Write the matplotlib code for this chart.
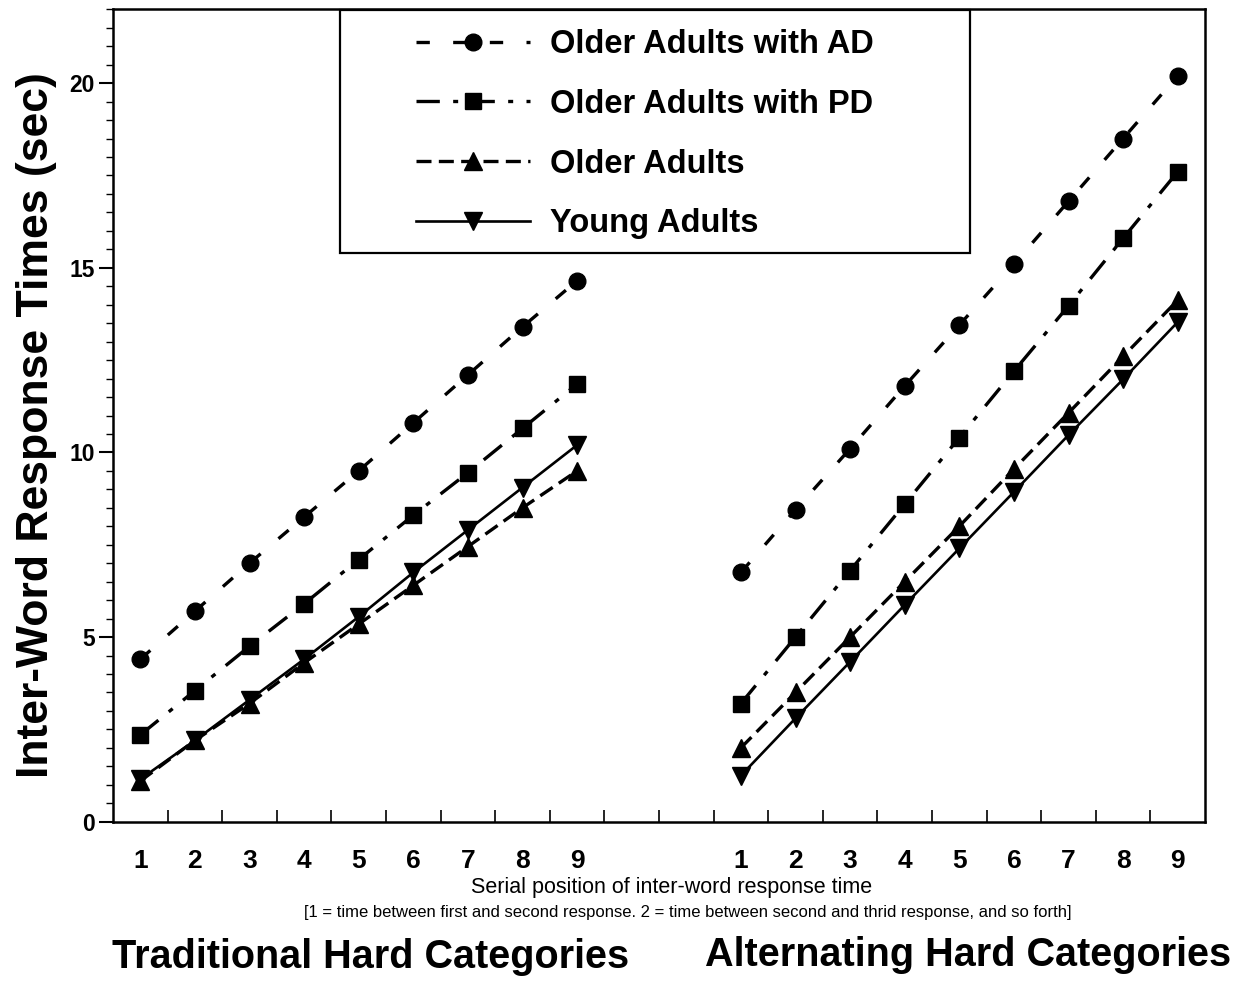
import matplotlib
matplotlib.use("Agg")
import matplotlib.pyplot as plt
from matplotlib.lines import Line2D
from matplotlib.patches import Rectangle
import numpy as np

plt.rcParams['font.family'] = ['Liberation Sans', 'DejaVu Sans']

# ---------------- data ----------------
positions = [1, 2, 3, 4, 5, 6, 7, 8, 9]
tick_labels = ["1", "2", "3", "4", "5", "6", "7", "8", "9"]
group_offset = 11  # second panel placed after a gap on the same axis

series_names = ["Older Adults with AD", "Older Adults with PD", "Older Adults", "Young Adults"]

# Traditional Hard Categories
trad_ad = [4.4, 5.7, 7.0, 8.25, 9.5, 10.8, 12.1, 13.4, 14.65]
trad_pd = [2.35, 3.55, 4.75, 5.9, 7.1, 8.3, 9.45, 10.65, 11.85]
trad_old = [1.1, 2.2, 3.2, 4.3, 5.35, 6.4, 7.45, 8.5, 9.5]
trad_young = [1.15, 2.2, 3.3, 4.4, 5.55, 6.75, 7.9, 9.05, 10.2]

# Alternating Hard Categories
alt_ad = [6.75, 8.45, 10.1, 11.8, 13.45, 15.1, 16.8, 18.5, 20.2]
alt_pd = [3.2, 5.0, 6.8, 8.6, 10.4, 12.2, 13.97, 15.8, 17.6]
alt_old = [2.0, 3.5, 5.0, 6.5, 8.0, 9.55, 11.07, 12.6, 14.12]
alt_young = [1.25, 2.8, 4.33, 5.87, 7.4, 8.93, 10.47, 11.98, 13.53]

# ---------------- styles ----------------
styles = [
    dict(marker='o', ms=12, lw=2.4, dashes=(4, 7)),
    dict(marker='s', ms=11.5, lw=2.4, dashes=(7, 4, 1.5, 4)),
    dict(marker='^', ms=13, lw=2.4, dashes=(4.5, 2.2)),
    dict(marker='v', ms=13, lw=1.9, dashes=()),
]

W, H = 1249, 981
fig = plt.figure(figsize=(W / 100, H / 100), dpi=100)
L, R, B, T = 113, 1205, 821.7, 9.3
ax = fig.add_axes([L / W, 1 - B / H, (R - L) / W, (B - T) / H])

x1 = np.array(positions, dtype=float)
x2 = x1 + group_offset
trad = [trad_ad, trad_pd, trad_old, trad_young]
alt = [alt_ad, alt_pd, alt_old, alt_young]

for st, yt, ya in zip(styles, trad, alt):
    for xs, ys in ((x1, yt), (x2, ya)):
        ln, = ax.plot(xs, ys, color='black', marker=st['marker'], ms=st['ms'],
                      lw=st['lw'], markeredgecolor='black', markerfacecolor='black',
                      solid_capstyle='butt', dash_capstyle='butt')
        if st['dashes']:
            ln.set_dashes(st['dashes'])

ax.set_xlim(0.5, 20.5)
ax.set_ylim(0, 22)

# x ticks: labels at data positions, inward tick marks between positions
ax.set_xticks(list(x1) + list(x2))
ax.set_xticklabels(tick_labels + tick_labels, fontsize=19, fontweight='bold')
ax.set_xticks(np.arange(1.5, 20.0, 1.0), minor=True)
ax.tick_params(axis='x', which='major', length=0, pad=20)
ax.tick_params(axis='x', which='minor', direction='in', length=9, width=1.2)

# y ticks
ax.set_yticks([0, 5, 10, 15, 20])
ax.set_yticklabels(["0", "5", "10", "15", "20"], fontsize=16.5, fontweight='bold')
ax.set_yticks(np.arange(0, 22.01, 0.5), minor=True)
ax.tick_params(axis='y', which='major', direction='out', length=10, width=1.5, pad=3)
ax.tick_params(axis='y', which='minor', direction='out', length=5, width=1.0)

for sp in ax.spines.values():
    sp.set_linewidth(1.8)

fig.text(37 / W, 1 - 425 / H, "Inter-Word Response Times (sec)", rotation=90,
         ha='center', va='center', fontsize=32, fontweight='bold')

# ---------------- legend ----------------
handles = []
for st, name in zip(styles, series_names):
    h = Line2D([], [], color='black', marker=st['marker'], ms=st['ms'], lw=st['lw'])
    if st['dashes']:
        h.set_dashes(st['dashes'])
    handles.append(h)
leg = fig.legend(handles, series_names, loc='upper left',
                 bbox_to_anchor=(390 / W, 1 - 3 / H), frameon=False,
                 prop=dict(family='Liberation Sans', weight='bold', size=23.5),
                 handlelength=3.5, handletextpad=0.6, labelspacing=0.88,
                 borderpad=0.3)
fig.patches.append(Rectangle((340 / W, 1 - 253 / H), (970 - 340) / W, (253 - 10) / H,
                             transform=fig.transFigure, fill=True, facecolor='white',
                             edgecolor='black', lw=1.6, zorder=3))
leg.set_zorder(5)

# ---------------- captions ----------------
fig.text(672 / W, 1 - 888 / H, "Serial position of inter-word response time",
         ha='center', va='center', fontsize=15.5)
fig.text(688 / W, 1 - 912 / H,
         "[1 = time between first and second response. 2 = time between second and thrid response, and so forth]",
         ha='center', va='center', fontsize=12)
fig.text(371 / W, 1 - 957 / H, "Traditional Hard Categories", ha='center', va='center',
         fontsize=28.5, fontweight='bold')
fig.text(968 / W, 1 - 955 / H, "Alternating Hard Categories", ha='center', va='center',
         fontsize=28.5, fontweight='bold')

fig.savefig("out.png", dpi=100)
